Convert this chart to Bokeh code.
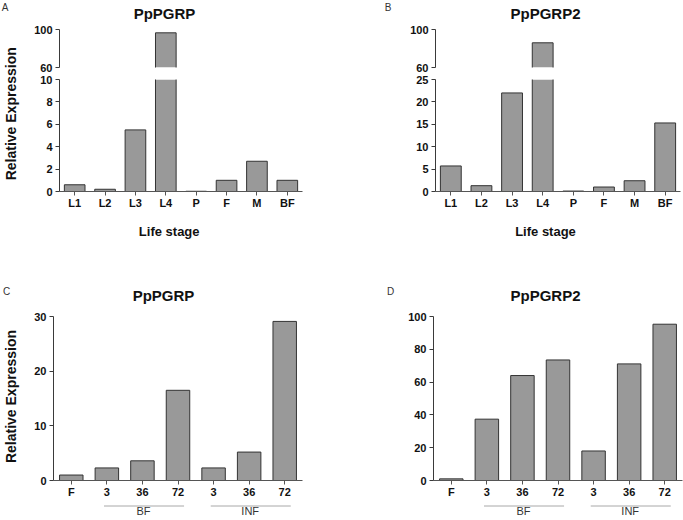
from math import pi
from bokeh.plotting import figure
from bokeh.layouts import column, row
from bokeh.models import FactorRange, Range1d, FixedTicker, CustomJSTickFormatter
from bokeh.embed import file_html
from bokeh.resources import INLINE
from bokeh.core.properties import value

# ---------------- data ----------------
stages = ["L1", "L2", "L3", "L4", "P", "F", "M", "BF"]
pgrp_stage = [0.6, 0.2, 5.5, 96.5, 0.02, 1.0, 2.7, 1.0]
pgrp2_stage = [5.7, 1.3, 22.0, 86.0, 0.1, 1.0, 2.4, 15.3]

conditions = ["F", "BF 3", "BF 36", "BF 72", "INF 3", "INF 36", "INF 72"]
pgrp_cond = [1.0, 2.3, 3.6, 16.5, 2.3, 5.2, 29.1]
pgrp2_cond = [1.0, 37.4, 64.0, 73.5, 18.0, 71.1, 95.3]

group_names = ["BF", "INF"]
group_first = ["BF 3", "INF 3"]
group_mid = ["BF 36", "INF 36"]
group_last = ["BF 72", "INF 72"]

titles = ["PpPGRP", "PpPGRP2", "PpPGRP", "PpPGRP2"]
letters = ["A", "B", "C", "D"]
ticks_A_top = [60, 100]
ticks_A_bot = [0, 2, 4, 6, 8, 10]
ticks_B_top = [60, 100]
ticks_B_bot = [0, 5, 10, 15, 20, 25]
ticks_C = [0, 10, 20, 30]
ticks_D = [0, 20, 40, 60, 80, 100]

# ---------------- style ----------------
FONT = "Liberation Sans"
AX = "#3a3a3a"
BAR_FILL = "#999999"
BAR_LINE = "#333333"
TICK_SIZE = "11px"


def base_fig(w, h, xr, yr, lb, rb, tb, bb, xloc=None, yloc=None):
    p = figure(width=w, height=h, x_range=xr, y_range=yr,
               output_backend="svg", toolbar_location=None, tools="",
               x_axis_location=xloc, y_axis_location=yloc, title=None,
               min_border_left=lb, min_border_right=rb,
               min_border_top=tb, min_border_bottom=bb)
    p.outline_line_color = None
    p.grid.visible = False
    p.background_fill_color = "white"
    p.border_fill_color = "white"
    return p


def style_axes(p, yticks, short_labels=False):
    for ax in p.yaxis:
        ax.ticker = FixedTicker(ticks=yticks, minor_ticks=[])
        ax.axis_line_color = AX
        ax.major_tick_line_color = AX
        ax.minor_tick_line_color = None
        ax.major_tick_out = 4
        ax.major_tick_in = 0
        ax.major_label_standoff = 3
        ax.major_label_text_font = FONT
        ax.major_label_text_font_size = TICK_SIZE
        ax.major_label_text_font_style = "bold"
        ax.major_label_text_color = "#111111"
    for ax in p.xaxis:
        ax.axis_line_color = "#555555"
        ax.major_tick_line_color = "#555555"
        ax.minor_tick_line_color = None
        ax.major_tick_out = 4
        ax.major_tick_in = 0
        ax.major_label_standoff = 1
        ax.major_label_text_font = FONT
        ax.major_label_text_font_size = TICK_SIZE
        ax.major_label_text_font_style = "bold"
        ax.major_label_text_color = "#111111"
        if short_labels:
            ax.formatter = CustomJSTickFormatter(code="return String(tick).split(' ').pop();")


def draw_bars(p, cats, vals, lo, hi, width):
    """Bars for one segment of a (possibly broken) value axis."""
    half = width / 2
    whole_c = [c for c, v in zip(cats, vals) if lo == 0 and v <= hi]
    whole_v = [v for c, v in zip(cats, vals) if lo == 0 and v <= hi]
    if whole_c:
        p.vbar(x=whole_c, top=whole_v, bottom=0, width=width,
               fill_color=BAR_FILL, line_color=BAR_LINE, line_width=1)
    # bars that cross a break: fill only, outline drawn edge by edge
    cut_c = [c for c, v in zip(cats, vals) if v > hi or (lo > 0 and v > lo)]
    cut_v = [v for c, v in zip(cats, vals) if v > hi or (lo > 0 and v > lo)]
    if cut_c:
        p.vbar(x=cut_c, top=cut_v, bottom=0, width=width,
               fill_color=BAR_FILL, line_color=None)
        for sgn in (-1, 1):
            p.segment(x0=[(c, sgn * half) for c in cut_c], y0=[0] * len(cut_c),
                      x1=[(c, sgn * half) for c in cut_c], y1=cut_v,
                      line_color=BAR_LINE, line_width=1)
        tc = [c for c, v in zip(cut_c, cut_v) if v <= hi]
        tv = [v for c, v in zip(cut_c, cut_v) if v <= hi]
        if tc:
            p.segment(x0=[(c, -half) for c in tc], y0=tv,
                      x1=[(c, half) for c in tc], y1=tv,
                      line_color=BAR_LINE, line_width=1)


def text_fig(w, h):
    return base_fig(w, h, Range1d(0, w), Range1d(h, 0), 0, 0, 0, 0)


def put_text(p, x, y, t, size, bold=False, color="#111111", align="center",
             baseline="alphabetic", angle=0.0):
    p.text(x=[x], y=[y], text=[t], angle=angle,
           text_font=value(FONT), text_font_size=value(size),
           text_font_style="bold" if bold else "normal",
           text_color=color, text_align=align, text_baseline=baseline)


# ---------------- top row (A, B) ----------------
xr_A = FactorRange(factors=stages)
xr_B = FactorRange(factors=stages)

topA = base_fig(317, 50, xr_A, Range1d(60, 100), 35, 39, 6, 6, xloc=None, yloc="left")
botA = base_fig(317, 143, xr_A, Range1d(0, 10), 35, 39, 6, 25, xloc="below", yloc="left")
topB = base_fig(342, 50, xr_B, Range1d(60, 100), 94, 3, 6, 6, xloc=None, yloc="left")
botB = base_fig(342, 143, xr_B, Range1d(0, 25), 94, 3, 6, 25, xloc="below", yloc="left")

draw_bars(topA, stages, pgrp_stage, 60, 100, 0.68)
draw_bars(botA, stages, pgrp_stage, 0, 10, 0.68)
draw_bars(topB, stages, pgrp2_stage, 60, 100, 0.68)
draw_bars(botB, stages, pgrp2_stage, 0, 25, 0.68)
style_axes(topA, ticks_A_top)
style_axes(botA, ticks_A_bot)
style_axes(topB, ticks_B_top)
style_axes(botB, ticks_B_bot)

hdrTop = text_fig(683, 23)
put_text(hdrTop, 4.5, 6.7, letters[0], "10px", color="#333333", baseline="middle")
put_text(hdrTop, 387.5, 6.7, letters[1], "10px", color="#333333", baseline="middle")
put_text(hdrTop, 164, 13, titles[0], "15px", bold=True)
put_text(hdrTop, 545, 13, titles[1], "15px", bold=True)

ylabA = text_fig(24, 193)
put_text(ylabA, 10.8, 90.3, "Relative Expression", "14px", bold=True,
         baseline="middle", angle=pi / 2)

ftrTop = text_fig(683, 34)
put_text(ftrTop, 168.7, 14.7, "Life stage", "13px", bold=True)
put_text(ftrTop, 545, 14.7, "Life stage", "13px", bold=True)

top_row = row(ylabA, column(topA, botA), column(topB, botB))

# ---------------- bottom row (C, D) ----------------
xr_C = FactorRange(factors=conditions)
xr_D = FactorRange(factors=conditions)

mainC = base_fig(317, 192, xr_C, Range1d(0, 30), 29, 39, 8, 19, xloc="below", yloc="left")
mainD = base_fig(342, 192, xr_D, Range1d(0, 100), 92, 1, 8, 19, xloc="below", yloc="left")
draw_bars(mainC, conditions, pgrp_cond, 0, 30, 0.66)
draw_bars(mainD, conditions, pgrp2_cond, 0, 100, 0.66)
style_axes(mainC, ticks_C, short_labels=True)
style_axes(mainD, ticks_D, short_labels=True)

hdrBot = text_fig(683, 58)
put_text(hdrBot, 6, 40.5, letters[2], "10px", color="#333333", baseline="middle")
put_text(hdrBot, 390, 40.5, letters[3], "10px", color="#333333", baseline="middle")
put_text(hdrBot, 163, 45.3, titles[2], "15px", bold=True)
put_text(hdrBot, 545, 45.3, titles[3], "15px", bold=True)

ylabC = text_fig(24, 192)
put_text(ylabC, 10.8, 93.7, "Relative Expression", "14px", bold=True,
         baseline="middle", angle=pi / 2)


def group_footer(w, xr, lb, rb):
    f = base_fig(w, 20, xr, Range1d(20, 0), lb, rb, 0, 0)
    x0 = [(c, -0.08) for c in group_first]
    x1 = [(c, 0.17) for c in group_last]
    f.segment(x0=x0, y0=[5.5, 5.5], x1=x1, y1=[5.5, 5.5], line_color="#a8a8a8", line_width=1)
    f.text(x=[(c, 0.03) for c in group_mid], y=[10.5, 10.5], text=group_names,
           text_font=value(FONT), text_font_size=value("11px"),
           text_color="#333333", text_align="center", text_baseline="middle")
    return f


ftrC = group_footer(317, xr_C, 29, 39)
ftrD = group_footer(342, xr_D, 92, 1)
spacer = text_fig(24, 20)

bottom_row = row(ylabC, mainC, mainD)
footer_row = row(spacer, ftrC, ftrD)

layout = column(hdrTop, top_row, ftrTop, hdrBot, bottom_row, footer_row)

open("out.html", "w").write(file_html(layout, INLINE))
